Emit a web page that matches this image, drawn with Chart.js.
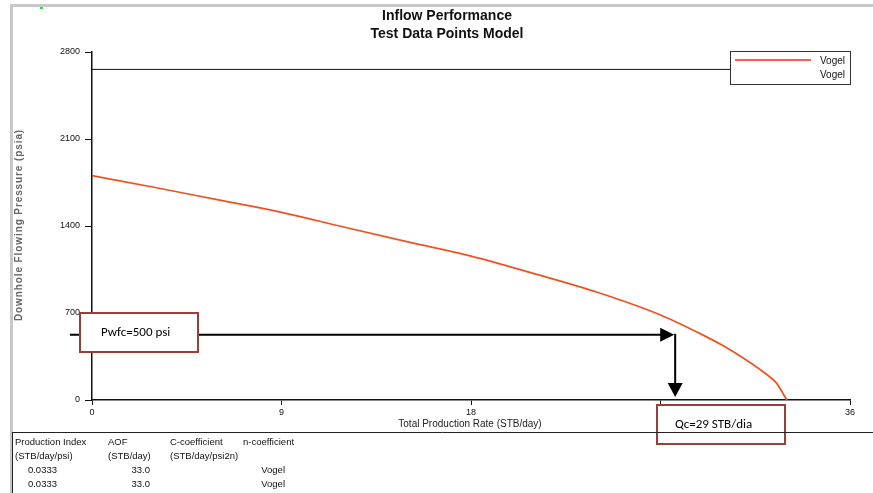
<!DOCTYPE html>
<html>
<head>
<meta charset="utf-8">
<script src="https://cdn.jsdelivr.net/npm/chart.js@4.4.0/dist/chart.umd.min.js"></script>
<style>
  html, body { margin: 0; padding: 0; background: #fff; }
  #wrap { width: 873px; height: 493px; position: relative; }
</style>
</head>
<body>
<div id="wrap"><canvas id="ipr" width="873" height="493"></canvas></div>
<script>
// Vogel IPR curve
const rate = [0, 3, 6, 9, 12, 15, 18, 21, 24, 27, 29, 30, 31, 32, 32.5, 33];
const pressure = [1805, 1710, 1610, 1510, 1390, 1272, 1158, 1017, 867, 684, 524, 434, 330, 211, 138, 0];

// reservoir pressure line
const resRate = [0, 36];
const resPressure = [2660, 2660];

// annotation arrow (Pwfc -> Qc)
const arrowPressure = 525;
const arrowRate = 27.65;

const xTicks = [0, 9, 18, 27, 36];
const yTicks = [0, 700, 1400, 2100, 2800];

const tableRows = [
  ['Production Index', 'AOF', 'C-coefficient', 'n-coefficient'],
  ['(STB/day/psi)', '(STB/day)', '(STB/day/psi2n)', ''],
  ['0.0333', '33.0', '', 'Vogel'],
  ['0.0333', '33.0', '', 'Vogel']
];

const narrow = "'Liberation Sans Narrow', 'Arial Narrow', 'Liberation Sans', Arial, sans-serif";
const curveColor = '#f0521f';
const boxColor = '#9b3d38';

const toXY = (xs, ys) => xs.map((x, i) => ({ x: x, y: ys[i] }));

function arrowHead(ctx, x, y, dir) {
  ctx.beginPath();
  if (dir === 'right') {
    ctx.moveTo(x, y);
    ctx.lineTo(x - 14, y - 7);
    ctx.lineTo(x - 14, y + 7);
  } else {
    ctx.moveTo(x, y);
    ctx.lineTo(x - 7.5, y - 14);
    ctx.lineTo(x + 7.5, y - 14);
  }
  ctx.closePath();
  ctx.fill();
}

function textBox(ctx, x, y, w, h, label, tx) {
  ctx.fillStyle = '#fff';
  ctx.fillRect(x, y, w, h);
  ctx.strokeStyle = boxColor;
  ctx.lineWidth = 2;
  ctx.strokeRect(x, y, w, h);
  ctx.fillStyle = '#000';
  ctx.font = "13px Calibri, Carlito, 'Open Sans', sans-serif";
  ctx.textAlign = 'left';
  ctx.textBaseline = 'middle';
  ctx.fillText(label, tx, y + h / 2);
}

const decor = {
  id: 'decor',
  beforeDraw(chart) {
    const ctx = chart.ctx;
    ctx.save();
    ctx.fillStyle = '#fff';
    ctx.fillRect(0, 0, chart.width, chart.height);
    // window frame
    ctx.fillStyle = '#c8c8c8';
    ctx.fillRect(10, 4, 3, 489);
    ctx.fillRect(10, 4, 863, 3);
    ctx.fillStyle = '#33dd33';
    ctx.fillRect(40, 7, 3, 2);
    ctx.restore();
  },
  afterDraw(chart) {
    const ctx = chart.ctx;
    const xs = chart.scales.x, ys = chart.scales.y;
    ctx.save();

    // titles
    ctx.fillStyle = '#111';
    ctx.textAlign = 'center';
    ctx.textBaseline = 'middle';
    ctx.font = "bold 14px " + narrow;
    ctx.fillText('Inflow Performance', 447, 16);
    ctx.fillText('Test Data Points Model', 447, 34);

    // axis titles
    ctx.font = "10px " + narrow;
    ctx.fillStyle = '#222';
    ctx.fillText('Total Production Rate (STB/day)', 470, 424);
    ctx.save();
    ctx.translate(19, 225);
    ctx.rotate(-Math.PI / 2);
    ctx.font = "bold 10px 'Liberation Sans', Arial, sans-serif";
    ctx.fillStyle = '#666';
    if ('letterSpacing' in ctx) ctx.letterSpacing = '0.9px';
    ctx.fillText('Downhole Flowing Pressure (psia)', 0, 0);
    ctx.restore();

    // legend
    ctx.fillStyle = '#fff';
    ctx.fillRect(730, 51, 120, 33);
    ctx.strokeStyle = '#333';
    ctx.lineWidth = 1;
    ctx.strokeRect(730.5, 51.5, 120, 33);
    ctx.strokeStyle = '#ff2a1a';
    ctx.lineWidth = 1.5;
    ctx.beginPath();
    ctx.moveTo(735, 60);
    ctx.lineTo(811, 60);
    ctx.stroke();
    ctx.fillStyle = '#111';
    ctx.font = "10px " + narrow;
    ctx.textAlign = 'right';
    ctx.fillText('Vogel', 845, 61);
    ctx.fillText('Vogel', 845, 75);

    // Pwfc arrow, starts behind the label box
    const ay = ys.getPixelForValue(arrowPressure);
    const ax = xs.getPixelForValue(arrowRate);
    const bottom = ys.getPixelForValue(0) - 3;
    ctx.strokeStyle = '#000';
    ctx.fillStyle = '#000';
    ctx.lineWidth = 2;
    ctx.beginPath();
    ctx.moveTo(70, ay);
    ctx.lineTo(ax - 10, ay);
    ctx.moveTo(ax + 1, ay - 1);
    ctx.lineTo(ax + 1, bottom - 12);
    ctx.stroke();
    arrowHead(ctx, ax, ay, 'right');
    arrowHead(ctx, ax + 1, bottom, 'down');

    textBox(ctx, 80, 313, 118, 39, 'Pwfc=500 psi', 101);
    textBox(ctx, 657, 405, 128, 39, 'Qc=29 STB/dia', 675);

    // results table
    ctx.strokeStyle = '#222';
    ctx.lineWidth = 1;
    ctx.beginPath();
    ctx.moveTo(12, 432.5);
    ctx.lineTo(873, 432.5);
    ctx.moveTo(12.5, 432);
    ctx.lineTo(12.5, 493);
    ctx.stroke();
    ctx.fillStyle = '#111';
    ctx.font = "9.5px " + narrow;
    ctx.textBaseline = 'middle';
    const colX = [15, 108, 170, 243];
    tableRows.forEach((row, r) => {
      const y = 442 + r * 14;
      row.forEach((cell, c) => {
        if (!cell) return;
        if (r >= 2) {
          ctx.textAlign = 'right';
          const rx = [57, 150, 0, 285][c];
          ctx.fillText(cell, rx, y);
        } else {
          ctx.textAlign = 'left';
          ctx.fillText(cell, colX[c], y);
        }
      });
    });
    ctx.restore();
  }
};

new Chart(document.getElementById('ipr'), {
  type: 'scatter',
  data: {
    datasets: [
      {
        label: 'Vogel',
        data: toXY(rate, pressure),
        showLine: true,
        borderColor: curveColor,
        borderWidth: 1.7,
        pointRadius: 0,
        cubicInterpolationMode: 'monotone'
      },
      {
        label: 'Pr',
        data: toXY(resRate, resPressure),
        showLine: true,
        borderColor: '#111',
        borderWidth: 1,
        pointRadius: 0
      }
    ]
  },
  options: {
    responsive: false,
    animation: false,
    layout: { padding: { top: 52, right: 23, left: 0, bottom: 0 } },
    plugins: {
      legend: { display: false },
      title: { display: false },
      tooltip: { enabled: false }
    },
    scales: {
      x: {
        type: 'linear',
        min: 0,
        max: 36,
        afterFit: s => { s.height = 93; },
        afterBuildTicks: s => { s.ticks = xTicks.map(v => ({ value: v })); },
        grid: { drawOnChartArea: false, drawTicks: true, tickLength: 5, color: '#111' },
        border: { color: '#111', width: 1.5 },
        ticks: { color: '#111', font: { family: narrow, size: 9 }, padding: 2, maxRotation: 0,
                 callback: v => String(v) }
      },
      y: {
        min: 0,
        max: 2800,
        afterFit: s => { s.width = 92; },
        afterBuildTicks: s => { s.ticks = yTicks.map(v => ({ value: v })); },
        grid: { drawOnChartArea: false, drawTicks: true, tickLength: 7, color: '#111' },
        border: { color: '#111', width: 1.5 },
        ticks: { color: '#111', font: { family: narrow, size: 9 }, padding: 5,
                 callback: v => String(v) }
      }
    }
  },
  plugins: [decor]
});
</script>
</body>
</html>
